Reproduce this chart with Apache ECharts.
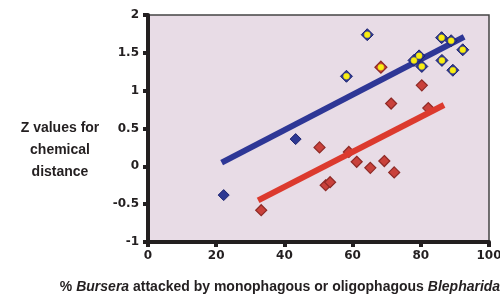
<!DOCTYPE html>
<html>
<head>
<meta charset="utf-8">
<script src="https://cdn.jsdelivr.net/npm/echarts@6/dist/echarts.min.js"></script>
<style>
  html, body { margin: 0; padding: 0; background: #fff; }
  #main { width: 500px; height: 294px; }
</style>
</head>
<body>
<div id="main"></div>
<script>
// monophagous / oligophagous points, blue diamonds
var blueX = [22.2, 43.3];
var blueY = [-0.38, 0.36];
// blue diamonds with yellow centre
var blueYellowX = [64.3, 58.2, 79.5, 78.0, 80.3, 86.1, 88.9, 92.3, 86.2, 89.4];
var blueYellowY = [1.74, 1.19, 1.46, 1.40, 1.32, 1.70, 1.66, 1.54, 1.40, 1.27];
// red diamonds
var redX = [80.3, 71.3, 82.2, 50.3, 58.9, 61.2, 65.2, 69.3, 72.2, 52.1, 53.4, 33.2];
var redY = [1.07, 0.83, 0.77, 0.25, 0.19, 0.06, -0.02, 0.07, -0.08, -0.25, -0.21, -0.58];
// red diamond with yellow centre
var redYellowX = [68.3];
var redYellowY = [1.31];
// fitted lines (end points)
var blueFitX = [21.6, 92.7];
var blueFitY = [0.05, 1.71];
var redFitX = [32.3, 86.8];
var redFitY = [-0.45, 0.81];

function pairs (xs, ys) {
  return xs.map(function (x, i) { return [x, ys[i]]; });
}

var myChart = echarts.init(document.getElementById('main'));

var blueDiamond = { color: '#2d3892', borderColor: '#1d2470', borderWidth: 1, opacity: 1 };
var redDiamond = { color: '#c9413b', borderColor: '#8e2a26', borderWidth: 1.2, opacity: 1 };
var yellowDot = { color: '#f8ee14', borderColor: '#e6d60c', borderWidth: 0.5, opacity: 1 };

option = {
  animation: false,
  grid: {
    left: 148, right: 11, top: 15, bottom: 52,
    outerBoundsMode: 'none',
    containLabel: false,
    show: true,
    backgroundColor: '#e8dce6',
    borderColor: '#444',
    borderWidth: 1.5
  },
  xAxis: {
    type: 'value',
    min: 0, max: 100, interval: 20,
    splitLine: { show: false },
    axisLine: { show: true, onZero: false, lineStyle: { color: '#231f20', width: 4 } },
    axisTick: { show: true, length: 5, lineStyle: { color: '#231f20', width: 4 } },
    axisLabel: {
      color: '#231f20', fontFamily: 'DejaVu Sans', fontWeight: 'bold', fontSize: 12, margin: 8,
      showMaxLabel: true
    },
    name: '{n|% }{i|Bursera}{n| attacked by monophagous or oligophagous }{i|Blepharida}',
    nameLocation: 'middle',
    nameGap: 38,
    nameTextStyle: {
      padding: [0, 77, 0, 0],
      rich: {
        n: { fontFamily: 'Liberation Sans', fontWeight: 'bold', fontSize: 14, color: '#231f20' },
        i: { fontFamily: 'Liberation Sans', fontWeight: 'bold', fontStyle: 'italic', fontSize: 14, color: '#231f20' }
      }
    }
  },
  yAxis: {
    type: 'value',
    min: -1, max: 2, interval: 0.5,
    splitLine: { show: false },
    axisLine: { show: true, onZero: false, lineStyle: { color: '#231f20', width: 4 } },
    axisTick: { show: true, length: 5, lineStyle: { color: '#231f20', width: 4 } },
    axisLabel: {
      color: '#231f20', fontFamily: 'DejaVu Sans', fontWeight: 'bold', fontSize: 12, margin: 9
    }
  },
  graphic: [{
    type: 'text',
    x: 60,
    y: 117,
    style: {
      text: 'Z values for\nchemical\ndistance',
      fontFamily: 'Liberation Sans',
      fontWeight: 'bold',
      fontSize: 14,
      lineHeight: 22,
      fill: '#231f20',
      align: 'center'
    }
  }],
  series: [
    {
      type: 'line', data: pairs(blueFitX, blueFitY), symbol: 'none',
      lineStyle: { color: '#2e3796', width: 6, cap: 'butt' }, z: 2
    },
    {
      type: 'line', data: pairs(redFitX, redFitY), symbol: 'none',
      lineStyle: { color: '#dc3a2e', width: 6, cap: 'butt' }, z: 4
    },
    {
      type: 'scatter', data: pairs(blueX, blueY), symbol: 'diamond', symbolSize: 11,
      itemStyle: blueDiamond, z: 3
    },
    {
      type: 'scatter', data: pairs(blueYellowX, blueYellowY), symbol: 'diamond', symbolSize: 12,
      itemStyle: blueDiamond, z: 5
    },
    {
      type: 'scatter', data: pairs(blueYellowX, blueYellowY), symbol: 'circle', symbolSize: 6,
      itemStyle: yellowDot, z: 6
    },
    {
      type: 'scatter', data: pairs(redX, redY), symbol: 'diamond', symbolSize: 11,
      itemStyle: redDiamond, z: 3
    },
    {
      type: 'scatter', data: pairs(redYellowX, redYellowY), symbol: 'diamond', symbolSize: 12,
      itemStyle: redDiamond, z: 5
    },
    {
      type: 'scatter', data: pairs(redYellowX, redYellowY), symbol: 'circle', symbolSize: 6,
      itemStyle: yellowDot, z: 6
    }
  ]
};

myChart.setOption(option);
</script>
</body>
</html>
